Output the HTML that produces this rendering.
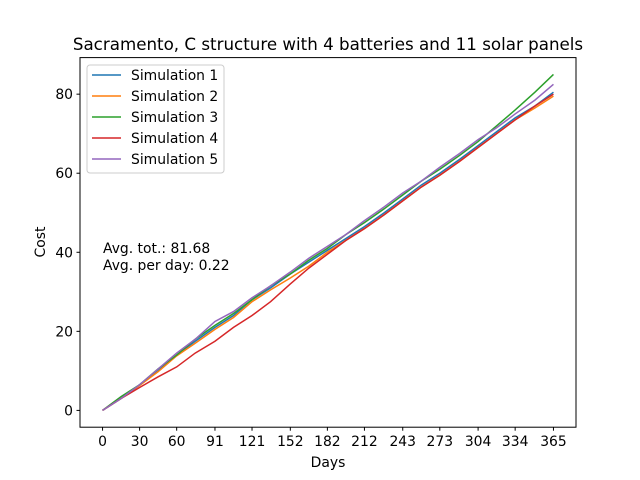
<!DOCTYPE html>
<html><head><meta charset="utf-8"><style>
body{margin:0;background:#fff}
svg{display:block;font-family:"DejaVu Sans","Liberation Sans",sans-serif}
</style></head><body>
<svg id="chart" width="640" height="480" xmlns="http://www.w3.org/2000/svg">
<rect width="640" height="480" fill="#fff"/>
<text x="328" y="50" text-anchor="middle" font-size="16.7">Sacramento, C structure with 4 batteries and 11 solar panels</text>
<g id="marks"></g>
<rect x="80" y="57.6" width="496" height="369.6" fill="none" stroke="#000" stroke-width="1"/>
<g id="xticks"></g><g id="yticks"></g>
<text x="328" y="467" text-anchor="middle" font-size="13.9">Days</text>
<text transform="translate(45,242) rotate(-90)" text-anchor="middle" font-size="13.9">Cost</text>
<text x="103" y="253" font-size="13.9">Avg. tot.: 81.68</text>
<text x="103" y="270" font-size="13.9">Avg. per day: 0.22</text>
<g id="legend">
<rect x="87" y="65" width="137" height="108" rx="3" fill="#fff" fill-opacity="0.8" stroke="#ccc"/>
</g>
</svg>
<script>
const days=[0,15,30,45,60,75,91,106,121,136,152,167,182,197,212,228,243,258,273,289,304,319,334,350,365];
const sim1=[0,3,6.5,10,14,17.5,21,24,28,31,34.5,37.5,40.5,43.5,46.5,50,53.5,57,60,63.5,67,70.5,74,77,80.5];
const sim2=[0,3,6.3,9.8,13.8,17,20.5,23.5,27.5,30.5,33.5,36.5,40,43,46,49.5,53,56.5,59.5,63,66.5,70,73.5,76.5,79.5];
const sim3=[0,3.5,6.5,10.5,14,18,21.5,24.5,28,31.5,34.5,38,41,44.5,47.5,51,54.5,58,61,64.5,68,72,76,80.5,85];
const sim4=[0,3,5.8,8.5,11,14.5,17.5,21,24,27.5,32,36,39.5,43,46,49.5,53,56.5,59.5,63,66.5,70,73.5,77,80];
const sim5=[0,3,6.5,10.5,14.5,18,22.5,25,28.5,31.5,35,38.5,41.5,44.5,48,51.5,55,58,61.5,65,68.5,71.5,75,78.5,82.5];
const seriesNames=["Simulation 1","Simulation 2","Simulation 3","Simulation 4","Simulation 5"];
const xTickLabels=[0,30,60,91,121,152,182,212,243,273,304,334,365];
const yTickLabels=[0,20,40,60,80];
const colors=["#1f77b4","#ff7f0e","#2ca02c","#d62728","#9467bd"];
const NS="http://www.w3.org/2000/svg";
const X=d=>80+(d+18.25)/401.5*496;
const Y=v=>427.2-(v+4.25)/93.5*369.6;
function mk(t,a,p){const e=document.createElementNS(NS,t);for(const k in a)e.setAttribute(k,a[k]);p.appendChild(e);return e;}
const marks=document.getElementById('marks');
[sim1,sim2,sim3,sim4,sim5].forEach((s,i)=>{
  const p=mk('polyline',{points:s.map((v,j)=>X(days[j])+','+Y(v)).join(' '),fill:'none',stroke:colors[i],'stroke-width':1.5},marks);
  
  
});
const xt=document.getElementById('xticks');
xTickLabels.forEach(d=>{
  const g=mk('g',{},xt);
  
  
  mk('line',{x1:X(d),x2:X(d),y1:427.2,y2:430.7,stroke:'#000'},g);
  const t=mk('text',{x:X(d),y:446,'text-anchor':'middle','font-size':13.9},g);t.textContent=d;
});
const yt=document.getElementById('yticks');
yTickLabels.forEach(v=>{
  const g=mk('g',{},yt);
  
  
  mk('line',{x1:76.5,x2:80,y1:Y(v),y2:Y(v),stroke:'#000'},g);
  const t=mk('text',{x:73,y:Y(v)+5,'text-anchor':'end','font-size':13.9},g);t.textContent=v;
});
const lg=document.getElementById('legend');
seriesNames.forEach((n,i)=>{
  const g=mk('g',{},lg);
  
  
  const y=75+i*21;
  mk('line',{x1:92,x2:121,y1:y,y2:y,stroke:colors[i],'stroke-width':1.5},g);
  const t=mk('text',{x:131,y:y+5,'font-size':13.9},g);t.textContent=n;
});
</script>
</body></html>
